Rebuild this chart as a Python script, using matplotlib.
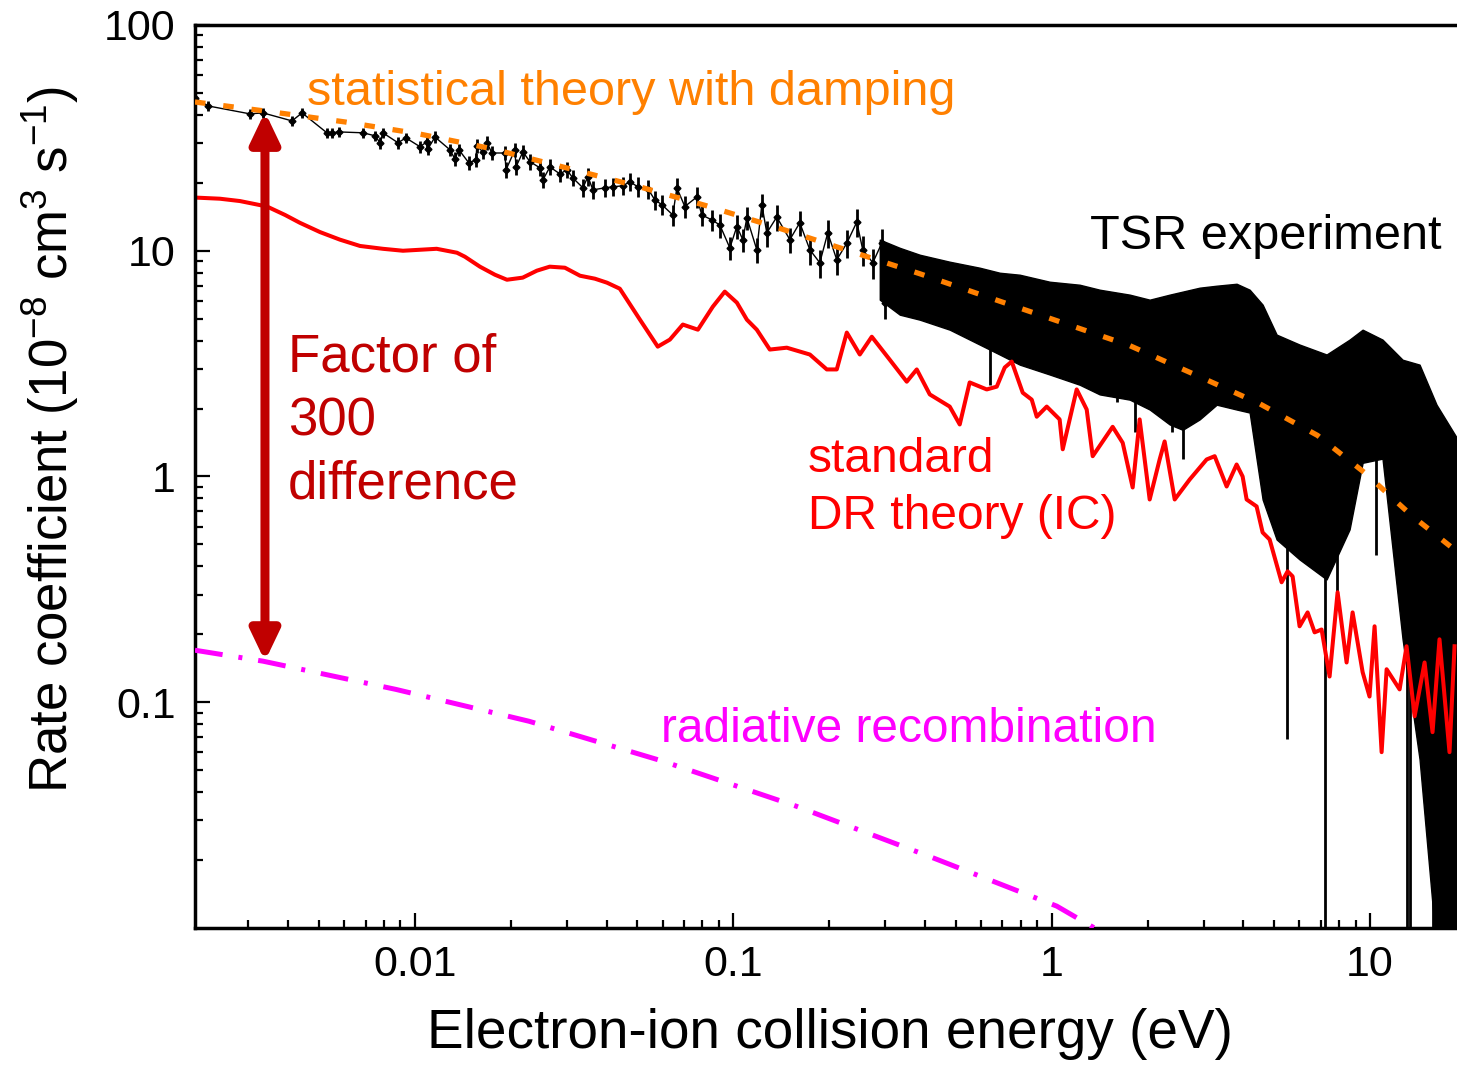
import matplotlib
matplotlib.use('Agg')
import matplotlib.pyplot as plt
from matplotlib.ticker import FixedLocator, LogLocator, NullFormatter

plt.rcParams['font.family'] = ['Liberation Sans', 'DejaVu Sans']
plt.rcParams['mathtext.fontset'] = 'custom'
plt.rcParams['mathtext.rm'] = 'Liberation Sans'
plt.rcParams['mathtext.it'] = 'Liberation Sans:italic'

# --- TSR experiment: individual points at low energy (eV, 1e-8 cm^3/s)
exp_e = [0.00204, 0.00224, 0.00303, 0.00333, 0.00411, 0.00442, 0.00529, 0.00549, 0.00577, 0.00687,
         0.00749, 0.00777, 0.00793, 0.00884, 0.00937, 0.01037, 0.01091, 0.01099, 0.01156, 0.01288,
         0.01335, 0.01374, 0.01477, 0.01554, 0.01565, 0.01635, 0.01683, 0.01745, 0.01917, 0.01931,
         0.02061, 0.02076, 0.02183, 0.02297, 0.02469, 0.02523, 0.02654, 0.02853, 0.03000, 0.03134,
         0.03370, 0.03493, 0.03622, 0.03950, 0.04184, 0.04498, 0.04732, 0.05012, 0.05390, 0.05669,
         0.05963, 0.06457, 0.06647, 0.07041, 0.07680, 0.07962, 0.0856, 0.0907, 0.0975, 0.1026,
         0.1071, 0.1103, 0.1185, 0.1229, 0.1274, 0.1369, 0.1505, 0.1617, 0.1739, 0.1869,
         0.1980, 0.2113, 0.2272, 0.2442, 0.2550, 0.2742, 0.2926, 0.2990, 0.3215]
exp_rate = [47.5, 43.8, 40.4, 40.8, 37.6, 40.8, 33.3, 33.3, 33.6, 33.3,
            32.3, 30.1, 33.3, 30.1, 31.6, 28.9, 30.4, 28.3, 31.9, 28.0,
            25.5, 28.0, 24.5, 25.3, 29.1, 27.4, 30.1, 27.1, 27.1, 22.8,
            28.0, 23.5, 27.4, 24.8, 23.3, 20.6, 23.5, 21.9, 22.8, 21.0,
            19.0, 21.3, 18.6, 19.0, 19.2, 19.4, 20.2, 19.2, 18.8, 16.8,
            16.0, 14.4, 19.0, 15.7, 17.3, 14.4, 13.7, 13.0, 10.3, 12.8,
            11.2, 14.0, 10.1, 16.0, 12.0, 14.1, 11.2, 13.3, 10.1, 8.85,
            12.0, 9.12, 10.8, 13.4, 10.1, 8.85, 10.8, 5.89, 7.67]
exp_relerr = [0.05, 0.05, 0.05, 0.05, 0.05, 0.05, 0.05, 0.05, 0.05, 0.05,
              0.05, 0.06, 0.05, 0.06, 0.05, 0.06, 0.06, 0.06, 0.06, 0.06,
              0.07, 0.06, 0.07, 0.07, 0.07, 0.07, 0.07, 0.07, 0.07, 0.08,
              0.07, 0.08, 0.07, 0.08, 0.08, 0.08, 0.08, 0.08, 0.08, 0.08,
              0.09, 0.09, 0.09, 0.09, 0.09, 0.09, 0.09, 0.10, 0.10, 0.10,
              0.10, 0.11, 0.10, 0.11, 0.11, 0.11, 0.11, 0.12, 0.12, 0.12,
              0.12, 0.12, 0.13, 0.12, 0.13, 0.13, 0.13, 0.13, 0.14, 0.14,
              0.14, 0.14, 0.14, 0.14, 0.15, 0.15, 0.15, 0.15, 0.15]

# --- TSR experiment: dense high-energy region, spread of the scatter
band_e = [0.2884, 0.3333, 0.3852, 0.4783, 0.5942, 0.6867, 0.7935, 0.9856, 1.224, 1.415,
          1.758, 2.031, 2.347, 2.579, 2.915, 3.298, 3.809, 4.185, 4.597, 5.087,
          6.006, 7.301, 8.622, 9.474, 10.94, 12.65, 14.30, 16.17, 18.69]
band_hi = [11.2, 10.3, 9.60, 8.94, 8.41, 7.99, 7.83, 7.29, 7.07, 6.72,
           6.39, 6.07, 6.39, 6.59, 6.86, 7.00, 7.14, 6.72, 5.77, 4.25,
           3.84, 3.47, 4.04, 4.47, 4.04, 3.29, 3.13, 2.08, 1.49]
band_lo = [6.07, 5.21, 4.95, 4.47, 3.84, 3.47, 3.13, 2.83, 2.55, 2.31,
           2.19, 1.98, 1.70, 1.61, 1.79, 2.08, 1.98, 1.92, 0.791, 0.526,
           0.429, 0.350, 0.583, 1.15, 1.20, 0.190, 0.056, 0.008, 0.008]

# deep single-point dips in the experimental data
spike_e = [0.6387, 1.600, 1.822, 2.381, 2.579, 5.47, 7.195, 7.85, 10.4, 12.20, 13.02, 13.3, 15.71, 17.51]
spike_lo = [2.55, 2.13, 1.58, 1.58, 1.19, 0.0686, 0.008, 0.30, 0.45, 0.354, 0.008, 0.008, 0.008, 0.0376]
spike_hi = [4.0, 3.0, 2.5, 2.2, 2.0, 0.6, 0.5, 0.6, 1.3, 1.3, 0.3, 0.3, 0.1, 0.1]

# --- statistical theory with damping
stat_e = [0.002037, 0.003556, 0.006027, 0.01022, 0.01745, 0.02916, 0.04942, 0.08257, 0.1390, 0.2305,
          0.3852, 0.6387, 1.059, 1.758, 2.812, 4.50, 6.84, 9.61, 13.5, 18.7]
stat_rate = [45.6, 41.2, 37.2, 33.0, 28.3, 23.5, 19.4, 15.8, 12.6, 10.0,
             7.91, 6.19, 4.85, 3.80, 2.83, 2.10, 1.52, 1.04, 0.672, 0.466]

# --- standard DR theory (IC)
dr_e = [0.00204, 0.00244, 0.00282, 0.00343, 0.00391, 0.00435, 0.00503, 0.00581, 0.00672, 0.00793,
        0.00917, 0.0117, 0.01355, 0.01435, 0.0160, 0.01783, 0.01945, 0.0218, 0.02415, 0.0265,
        0.02958, 0.0330, 0.03674, 0.0401, 0.0440, 0.0509, 0.0579, 0.0632, 0.0694,
        0.0774, 0.0862, 0.0940, 0.1026, 0.1103, 0.1185, 0.1302, 0.1472, 0.1739, 0.1966,
        0.2113, 0.2272, 0.2496, 0.2722, 0.3100, 0.3505, 0.3768, 0.4140, 0.4783, 0.5142,
        0.5525, 0.6251, 0.6720, 0.7120, 0.7489, 0.8110, 0.8655, 0.8974, 0.9646, 1.059,
        1.083, 1.198, 1.288, 1.345, 1.554, 1.671, 1.796, 1.889, 2.031, 2.183,
        2.263, 2.434, 2.713, 3.067, 3.250, 3.544, 3.809, 3.978, 4.095, 4.401,
        4.597, 4.836, 5.274, 5.508, 5.710, 6.006, 6.365, 6.695, 7.042, 7.461,
        7.906, 8.437, 8.812, 9.474, 9.96, 10.33, 10.87, 11.27, 12.38, 13.02,
        13.80, 14.83, 15.71, 16.52, 17.76, 18.42]
dr_rate = [17.2, 17.0, 16.6, 15.7, 14.4, 13.3, 12.1, 11.2, 10.5, 10.2,
           10.0, 10.2, 9.8, 9.41, 8.5, 7.83, 7.44, 7.6, 8.16, 8.5,
           8.41, 7.75, 7.52, 7.22, 6.79, 4.95, 3.76, 4.04, 4.71,
           4.47, 5.65, 6.59, 5.89, 4.95, 4.47, 3.65, 3.72, 3.47, 2.98,
           2.98, 4.34, 3.47, 4.16, 3.29, 2.63, 2.98, 2.31, 2.04, 1.70,
           2.61, 2.43, 2.50, 3.04, 3.23, 2.35, 2.19, 1.84, 2.04, 1.79,
           1.32, 2.43, 1.98, 1.23, 1.66, 1.41, 0.894, 1.79, 0.791, 1.19,
           1.43, 0.791, 0.970, 1.19, 1.23, 0.903, 1.13, 1.0, 0.791, 0.737,
           0.565, 0.526, 0.340, 0.380, 0.361, 0.217, 0.250, 0.204, 0.210, 0.130,
           0.307, 0.150, 0.250, 0.136, 0.106, 0.217, 0.0601, 0.140, 0.114, 0.177,
           0.0867, 0.150, 0.0737, 0.190, 0.0601, 0.177]

# --- radiative recombination
rr_e = [0.002037, 0.003334, 0.00871, 0.02280, 0.0601, 0.157, 0.411, 1.037, 1.45]
rr_rate = [0.170, 0.152, 0.114, 0.0824, 0.0548, 0.0347, 0.0208, 0.0125, 0.0095]

fig = plt.figure(figsize=(14.57, 10.68), dpi=100)
ax = fig.add_axes([0.1338, 0.1311, 0.8662, 0.8455])
ax.set_xscale('log')
ax.set_yscale('log')
ax.set_xlim(0.002037, 18.75)
ax.set_ylim(0.01, 100)

# experiment
ax.fill_between(band_e, band_lo, band_hi, color='black', lw=1.0, zorder=1)
ax.vlines(spike_e, spike_lo, spike_hi, color='black', lw=2.0, zorder=1)
yerr = [[r * f for r, f in zip(exp_rate, exp_relerr)],
        [r * f for r, f in zip(exp_rate, exp_relerr)]]
ax.errorbar(exp_e, exp_rate, yerr=yerr, fmt='D', ms=3.5, color='black',
            ecolor='black', elinewidth=2.0, capsize=0, zorder=1)
ax.plot(exp_e, exp_rate, color='black', lw=1.0, zorder=1)

# theories
ax.plot(dr_e, dr_rate, color='#FF0000', lw=2.9, zorder=2)
ax.plot(stat_e, stat_rate, color='#FF8000', lw=3.8, linestyle=(0, (2.0, 3.4)), zorder=3)
ax.plot(rr_e, rr_rate, color='#FF00FF', lw=3.6, linestyle=(0, (5.6, 3.2, 0.8, 3.2)), zorder=3)

# factor-of-300 arrow
ax.annotate('', xy=(0.00338, 41.2), xytext=(0.00338, 0.152),
            arrowprops=dict(arrowstyle='<|-|>,head_length=18,head_width=8.6',
                            mutation_scale=1, color='#C00000', lw=6.5,
                            shrinkA=0, shrinkB=0), zorder=4)

# labels on the plot
ax.text(0.00458, 44.3, 'statistical theory with damping', color='#FF8000',
        fontsize=35, ha='left', va='baseline')
ax.text(1.315, 10.2, 'TSR experiment', color='black', fontsize=35,
        ha='left', va='baseline')
ax.text(0.003993, 2.914, 'Factor of', color='#C00000', fontsize=38, ha='left', va='baseline')
ax.text(0.003993, 1.518, '300', color='#C00000', fontsize=38, ha='left', va='baseline')
ax.text(0.003993, 0.799, 'difference', color='#C00000', fontsize=38, ha='left', va='baseline')
ax.text(0.1714, 1.052, 'standard', color='#FF0000', fontsize=34.5, ha='left', va='baseline')
ax.text(0.1714, 0.583, 'DR theory (IC)', color='#FF0000', fontsize=34.5, ha='left', va='baseline')
ax.text(0.0592, 0.0665, 'radiative recombination', color='#FF00FF', fontsize=34.5,
        ha='left', va='baseline')

# axes styling
ax.xaxis.set_major_locator(FixedLocator([0.01, 0.1, 1, 10]))
ax.set_xticklabels(['0.01', '0.1', '1', '10'])
ax.xaxis.set_minor_locator(LogLocator(base=10, subs=range(2, 10), numticks=20))
ax.xaxis.set_minor_formatter(NullFormatter())
ax.yaxis.set_major_locator(FixedLocator([0.1, 1, 10, 100]))
ax.set_yticklabels(['0.1', '1', '10', '100'])
ax.yaxis.set_minor_locator(LogLocator(base=10, subs=range(2, 10), numticks=20))
ax.yaxis.set_minor_formatter(NullFormatter())

ax.tick_params(which='both', direction='in', top=False, right=False, width=1.6)
ax.tick_params(which='major', length=11, labelsize=31, pad=12)
ax.tick_params(which='minor', length=5.5)
ax.tick_params(axis='y', which='major', pad=14)

for side in ['left', 'bottom', 'top']:
    ax.spines[side].set_linewidth(2.5)
ax.spines['right'].set_visible(False)

ax.set_xlabel('Electron-ion collision energy (eV)', fontsize=39.5)
ax.set_ylabel('Rate coefficient (10$^{\\mathregular{-8}}$ cm$^{\\mathregular{3}}$ s$^{\\mathregular{-1}}$)',
              fontsize=38)
ax.xaxis.set_label_coords(0.503, -0.0886)
ax.yaxis.set_label_coords(-0.0903, 0.5415)

fig.savefig('out.png', dpi=100)
plt.close(fig)
